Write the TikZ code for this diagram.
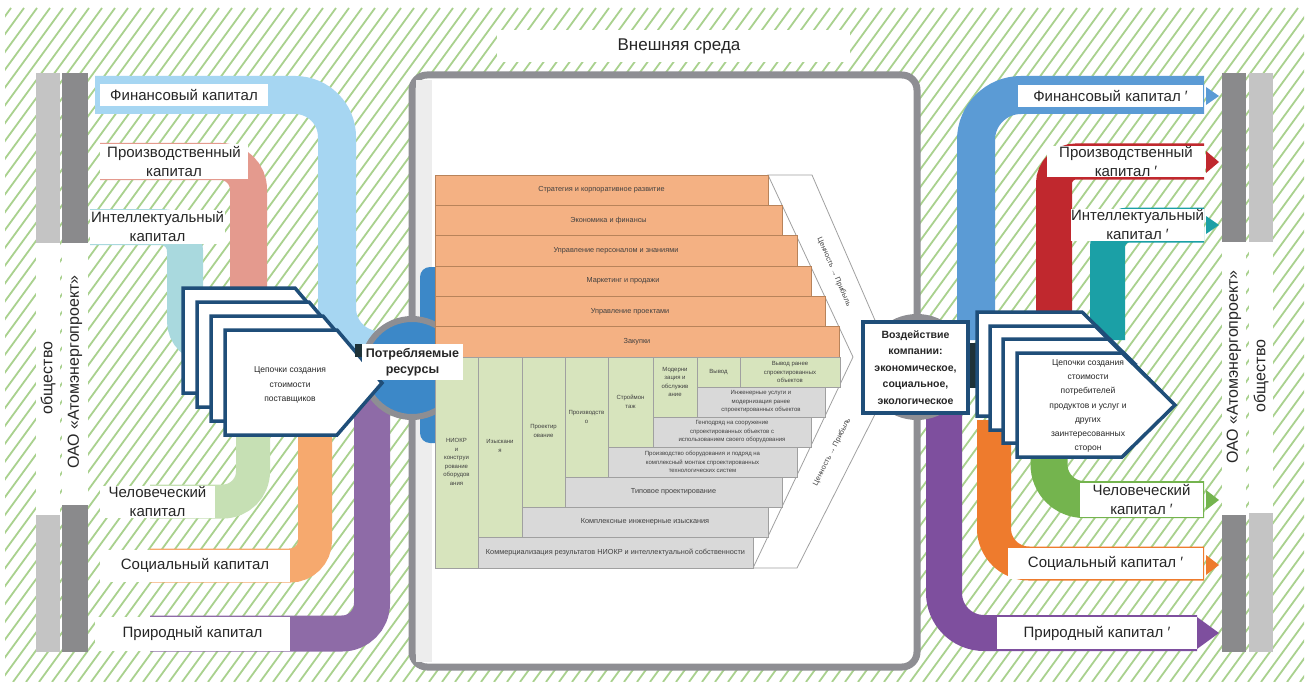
\documentclass[tikz,border=0pt]{standalone}
\usepackage{fontspec}
\setmainfont{Liberation Sans}
\definecolor{hatchc}{HTML}{A9D18E}
\definecolor{lgray}{HTML}{C4C4C4}
\definecolor{dgray}{HTML}{8A8A8C}
\definecolor{boxgray}{HTML}{8E8E93}
\definecolor{txt}{HTML}{262626}
\definecolor{cFinL}{HTML}{A6D6F2}
\definecolor{cProdL}{HTML}{E49A8E}
\definecolor{cIntL}{HTML}{A9D9DE}
\definecolor{cHumL}{HTML}{C6E0B4}
\definecolor{cSocL}{HTML}{F6A96E}
\definecolor{cNatL}{HTML}{8E6BA7}
\definecolor{cFinR}{HTML}{5B9BD5}
\definecolor{cProdR}{HTML}{C0282E}
\definecolor{cIntR}{HTML}{1BA0A6}
\definecolor{cHumR}{HTML}{74B44E}
\definecolor{cSocR}{HTML}{EE7B2D}
\definecolor{cNatR}{HTML}{7E4F9E}
\definecolor{cBlue}{HTML}{3C88C8}
\definecolor{cNavy}{HTML}{1F4E79}
\definecolor{cOr}{HTML}{F4B183}
\definecolor{cOrD}{HTML}{B8835A}
\definecolor{cGr}{HTML}{D9D9D9}
\definecolor{cGrD}{HTML}{A0A0A0}
\definecolor{cLg}{HTML}{D7E4BD}
\definecolor{cTiny}{HTML}{404040}
\definecolor{cDark}{HTML}{1E3238}
\definecolor{cStrip}{HTML}{EDEDED}
\tikzset{
  lab/.style={fill=white, align=center, text=txt, font=\fontsize{15}{19}\selectfont, inner sep=0pt},
  vlab/.style={rotate=90, text=txt, font=\fontsize{16}{18}\selectfont, inner sep=0pt},
  pipe/.style={line width=#1pt},
  chev/.style={fill=white, draw=cNavy, line width=3.5pt, line join=miter},
  obar/.style={fill=cOr, draw=cOrD, line width=0.6pt},
  gbar/.style={fill=cGr, draw=cGrD, line width=0.6pt},
  lbar/.style={fill=cLg, draw=cGrD, line width=0.6pt},
  tiny/.style={font=\fontsize{7.3}{9.3}\selectfont, text=cTiny, align=center, inner sep=0pt},
  coltiny/.style={font=\fontsize{6}{8.5}\selectfont, text=cTiny, align=center, inner sep=0pt},
  chevtext/.style={font=\fontsize{8.5}{14.2}\selectfont, text=txt, align=center, inner sep=0pt},
}
\begin{document}
\begin{tikzpicture}[x=1pt,y=-1pt]
\useasboundingbox (0,0) rectangle (1309,682);
\fill[white] (0,0) rectangle (1309,682);
% hatched background
\begin{scope}
\clip (5,8) rectangle (1304,682);
\foreach \i in {-40,...,101} \draw[hatchc, line width=1.8pt] (\i*13,682) -- (\i*13+492,8);
\end{scope}
% external environment
\node[fill=white, minimum width=353, minimum height=32, inner sep=0pt] (envbox) at (673.5,46) {};
\node[text=txt, font=\fontsize{17}{19}\selectfont] (env) at (679,46) {Внешняя среда};

% left vertical bars
\fill[lgray] (36,73) rectangle (60,652);
\fill[white] (36,243) rectangle (60,515);
\fill[dgray] (62,73) rectangle (88,652);
\fill[white] (62,243) rectangle (88,505);
\node[vlab] (socL) at (48,378) {общество};
\node[vlab] (oaoL) at (75,372) {ОАО «Атомэнергопроект»};
% right vertical bars
\fill[dgray] (1222,73) rectangle (1246,652);
\fill[white] (1222,242) rectangle (1246,515);
\fill[lgray] (1249,73) rectangle (1273,652);
\fill[white] (1249,242) rectangle (1273,513);
\node[vlab] (oaoR) at (1234,367) {ОАО «Атомэнергопроект»};
\node[vlab] (socR) at (1261,376) {общество};

% left pipes
\draw[pipe=38, cFinL, rounded corners=42] (95,95) -- (337,95) -- (337,350) -- (395,350);
\draw[pipe=37, cProdL, rounded corners=28] (100,161.5) -- (248.5,161.5) -- (248.5,320);
\draw[pipe=36, cIntL, rounded corners=24] (90,227) -- (185,227) -- (185,345) -- (240,345);
\draw[pipe=34, cHumL, rounded corners=30] (253,420) -- (253,501.5) -- (150,501.5);
\draw[pipe=34, cSocL, rounded corners=25] (315,420) -- (315,565.5) -- (150,565.5);
\draw[pipe=36, cNatL, rounded corners=30] (372,390) -- (372,633.5) -- (150,633.5);
% right pipes
\draw[pipe=38, cFinR, rounded corners=45] (976,340) -- (976,95) -- (1204,95);
\draw[pipe=36, cProdR, rounded corners=22] (1054,330) -- (1054,161.5) -- (1204,161.5);
\draw[pipe=35, cIntR, rounded corners=22] (1107.5,340) -- (1107.5,225) -- (1204,225);
\draw[pipe=37, cHumR, rounded corners=35] (1049,440) -- (1049,499.5) -- (1204,499.5);
\draw[pipe=34, cSocR, rounded corners=35] (994,420) -- (994,563.5) -- (1204,563.5);
\draw[pipe=36, cNatR, rounded corners=40] (944,400) -- (944,633) -- (1197,633);

% left labels
\node[lab, minimum width=168, minimum height=22] (finLl) at (184,95) {Финансовый капитал};
\node[lab, minimum width=148, minimum height=34] (prodLl) at (174,161.5) {Производственный\\капитал};
\node[lab, minimum width=135, minimum height=34] (intLl) at (157.5,227) {Интеллектуальный\\капитал};
\node[lab, minimum width=115, minimum height=32] (humLl) at (157.5,501.5) {Человеческий\\капитал};
\node[lab, minimum width=190, minimum height=32] (socLl) at (195,565.5) {Социальный капитал};
\node[lab, minimum width=195, minimum height=34] (natLl) at (192.5,633.5) {Природный капитал};
% right labels
\node[lab, minimum width=185, minimum height=22] (finRl) at (1110.5,96) {Финансовый капитал ′};
\node[lab, minimum width=158, minimum height=31] (prodRl) at (1126,161.5) {Производственный\\капитал ′};
\node[lab, minimum width=131, minimum height=32] (intRl) at (1137.5,225) {Интеллектуальный\\капитал ′};
\node[lab, minimum width=123, minimum height=34] (humRl) at (1141.5,499.5) {Человеческий\\капитал ′};
\node[lab, minimum width=195, minimum height=31] (socRl) at (1105.5,563.5) {Социальный капитал ′};
\node[lab, minimum width=200, minimum height=32] (natRl) at (1097,633) {Природный капитал ′};
% arrow heads
\fill[cFinR] (1206,87) -- (1219,96) -- (1206,105) -- cycle;
\fill[cProdR] (1206,151) -- (1219,162) -- (1206,173) -- cycle;
\fill[cIntR] (1206,216) -- (1219,225) -- (1206,234) -- cycle;
\fill[cHumR] (1206,490) -- (1219,500) -- (1206,510) -- cycle;
\fill[cSocR] (1206,555) -- (1219,565) -- (1206,575) -- cycle;
\fill[cNatR] (1197,617) -- (1219,633) -- (1197,649) -- cycle;

% central box
\draw[line width=7pt, draw=boxgray, fill=white, rounded corners=15] (412,75) rectangle (917,667);
\fill[cStrip] (416,80) rectangle (432,662);
\fill[cBlue, rounded corners=10] (420,267) rectangle (448,443);
% circles
\draw[line width=6pt, draw=boxgray, fill=cBlue] (412,368) circle[radius=49];
\draw[line width=6pt, draw=boxgray, fill=cBlue] (917,367) circle[radius=50];

% big chevron
\draw[fill=white, draw=cGrD, line width=0.8pt] (768,175) -- (812,175) -- (897,371) -- (797,568) -- (753,568) -- (853,357) -- cycle;
\node[tiny, rotate=-66.5] (val1) at (834,272) {Ценность → Прибыль};
\node[tiny, rotate=63] (val2) at (832,452) {Ценность → Прибыль};

% orange bars
\foreach \ya/\yb/\r/\t [count=\k] in {175/205.3/768/{Стратегия и корпоративное развитие},
  205.3/235.6/782/{Экономика и финансы},
  235.6/265.9/797/{Управление персоналом и знаниями},
  265.9/296.2/811/{Маркетинг и продажи},
  296.2/326.5/825/{Управление проектами},
  326.5/357/839/{Закупки}}{
  \draw[obar] (435,\ya) rectangle (\r,\yb);
  \node[tiny] (ob\k) at ({(435+\r)/2},{(\ya+\yb)/2}) {\t};
}
% green columns
\draw[lbar] (435,357) rectangle (478,568);
\draw[lbar] (478,357) rectangle (522,537);
\draw[lbar] (522,357) rectangle (565,507);
\draw[lbar] (565,357) rectangle (608,477);
\draw[lbar] (608,357) rectangle (653,447);
\draw[lbar] (653,357) rectangle (697,417);
\draw[lbar] (697,357) rectangle (740,387);
\draw[lbar] (740,357) rectangle (840,387);
\node[coltiny] (g1) at (456.5,462) {НИОКР\\и\\конструи\\рование\\оборудов\\ания};
\node[coltiny] (g2) at (500,446) {Изыскани\\я};
\node[coltiny] (g3) at (543.5,431) {Проектир\\ование};
\node[coltiny] (g4) at (586.5,417) {Производств\\о};
\node[coltiny] (g5) at (630.5,402) {Строймон\\таж};
\node[coltiny] (g6) at (675,382) {Модерни\\зация и\\обслужив\\ание};
\node[coltiny] (g7) at (718.5,372) {Вывод};
\node[coltiny] (g8) at (790,372) {Вывод ранее\\спроектированных\\объектов};
% gray bars
\draw[gbar] (697,387) rectangle (825,417);
\draw[gbar] (653,417) rectangle (811,447);
\draw[gbar] (608,447) rectangle (797,477);
\draw[gbar] (565,477) rectangle (782,507);
\draw[gbar] (522,507) rectangle (768,537);
\draw[gbar] (478,537) rectangle (753,568);
\node[coltiny] (s1) at (761,402) {Инженерные услуги и\\модернизация ранее\\спроектированных объектов};
\node[coltiny] (s2) at (732,432) {Генподряд на сооружение\\спроектированных объектов с\\использованием своего оборудования};
\node[coltiny] (s3) at (702.5,462) {Производство оборудования и подряд на\\комплексный монтаж спроектированных\\технологических систем};
\node[tiny] (s4) at (673.5,492) {Типовое проектирование};
\node[tiny] (s5) at (645,522) {Комплексные инженерные изыскания};
\node[tiny] (s6) at (615.5,552.5) {Коммерциализация результатов НИОКР и интеллектуальной собственности};

% left chevron stack
\foreach \dx/\dy in {183/288,197/302,211/316,225/330}
  \draw[chev] (\dx,\dy) -- ++(112,0) -- ++(45,53) -- ++(-45,52) -- ++(-112,0) -- cycle;
\node[chevtext] (supp) at (290,385) {Цепочки создания\\стоимости\\поставщиков};
% consumed resources label
\fill[cDark] (355,344) rectangle (363,357);
\node[fill=white, minimum width=101, minimum height=36, inner sep=0pt, align=center, text=txt,
  font=\bfseries\fontsize{12.5}{16}\selectfont] (res) at (412.5,362) {Потребляемые\\ресурсы};

% right side
\fill[cDark] (966,343) rectangle (985,388);
\foreach \dx/\dy in {977/312,990/326,1003/339,1017/353}
  \draw[chev] (\dx,\dy) -- ++(105,0) -- ++(53,52) -- ++(-53,52) -- ++(-105,0) -- cycle;
\node[chevtext] (cons) at (1088,406) {Цепочки создания\\стоимости\\потребителей\\продуктов и услуг и\\других\\заинтересованных\\сторон};
\node[fill=white, draw=cNavy, line width=3.5pt, minimum width=105, minimum height=91, inner sep=0pt,
  align=center, text=txt, font=\bfseries\fontsize{10.5}{16.5}\selectfont] (impact) at (915.5,367.5)
  {Воздействие\\компании:\\экономическое,\\социальное,\\экологическое};
\end{tikzpicture}
\end{document}
